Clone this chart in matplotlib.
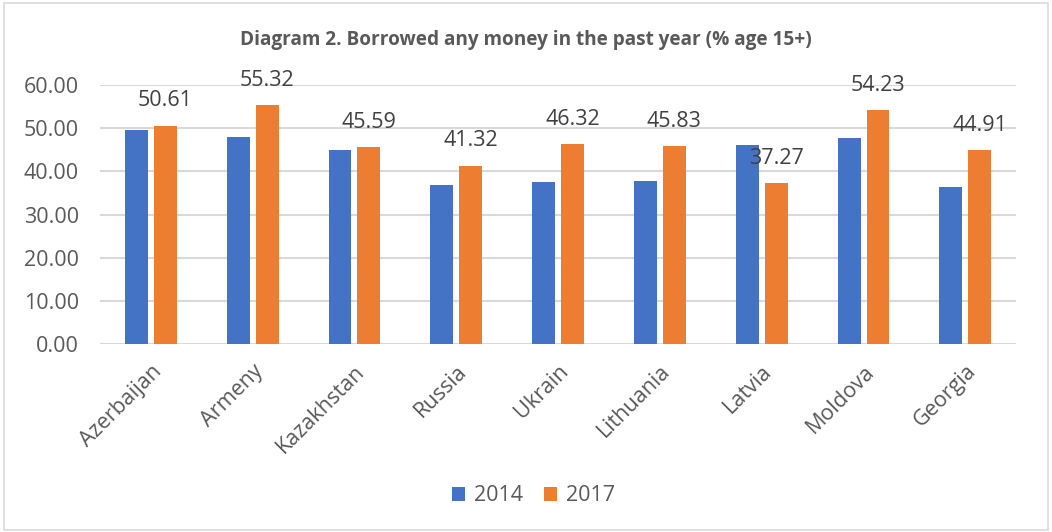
import matplotlib
matplotlib.use("Agg")
import matplotlib.pyplot as plt
import numpy as np
from matplotlib.patches import Rectangle

countries = ["Azerbaijan", "Armeny", "Kazakhstan", "Russia", "Ukrain",
             "Lithuania", "Latvia", "Moldova", "Georgia"]
values_2014 = [49.6, 47.9, 44.9, 36.9, 37.5, 37.7, 46.2, 47.8, 36.5]
values_2017 = [50.61, 55.32, 45.59, 41.32, 46.32, 45.83, 37.27, 54.23, 44.91]
yticks = [0, 10, 20, 30, 40, 50, 60]
title = "Diagram 2. Borrowed any money in the past year (% age 15+)"

plt.rcParams['font.family'] = ['Open Sans', 'DejaVu Sans']

fig = plt.figure(figsize=(10.52, 5.32), dpi=100)
fig.patch.set_facecolor('white')
fig.add_artist(Rectangle((0.004, 0.004), 0.992, 0.99, transform=fig.transFigure,
                         fill=False, edgecolor='#D9D9D9', linewidth=1.2))

ax = fig.add_axes([0.095, 0.353, 0.871, 0.487])
x = np.arange(len(countries))
w = 0.225
off = 0.142
b1 = ax.bar(x - off, values_2014, w, color='#4472C4', label='2014', zorder=3)
b2 = ax.bar(x + off, values_2017, w, color='#ED7D31', label='2017', zorder=3)

for xi, v in zip(x + off, values_2017):
    ax.annotate(f"{v:.2f}", (xi, v), xytext=(0, 18), textcoords='offset points',
                ha='center', va='center', fontsize=15.5, color='#404040', zorder=4)

ax.set_xlim(-0.5, len(countries) - 0.5)
ax.set_ylim(0, 60)
ax.set_yticks(yticks)
ax.set_yticklabels([f"{t:.2f}" for t in yticks], fontsize=15.5, color='#595959')
ax.set_xticks(x)
ax.set_xticklabels(countries, rotation=45, ha='right', rotation_mode='anchor',
                   fontsize=15.5, color='#595959')
ax.tick_params(axis='both', length=0)
ax.tick_params(axis='y', pad=15)
ax.tick_params(axis='x', pad=12)
ax.grid(axis='y', color='#D9D9D9', linewidth=1.5, zorder=0)
for s in ax.spines.values():
    s.set_visible(False)

fig.text(0.5, 0.925, title, ha='center', va='center', fontsize=13.7,
         fontweight='bold', color='#595959')

fig.legend(handles=[b1, b2], labels=['2014', '2017'], loc='center',
           bbox_to_anchor=(0.507, 0.068), ncol=2, frameon=False, fontsize=15.5,
           handlelength=0.6, handleheight=0.6, handletextpad=0.4, columnspacing=1.0,
           labelcolor='#595959')

fig.savefig("out.png", dpi=100, facecolor='white')
